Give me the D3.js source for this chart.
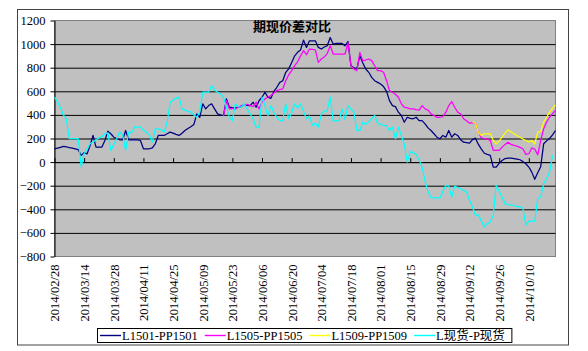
<!DOCTYPE html>
<html>
<head>
<meta charset="utf-8">
<script src="https://cdn.jsdelivr.net/npm/d3@7"></script>
<style>
  body { margin: 0; background: #fff; }
  text { font-family: "Liberation Serif", "Noto Sans CJK SC", serif; }
</style>
</head>
<body>
<div id="chart"></div>
<script>
// categories: every weekday from start to end
var startDate = "2014/02/28", endDate = "2014/10/23";
var tickLabels = ["2014/02/28","2014/03/14","2014/03/28","2014/04/11","2014/04/25","2014/05/09",
  "2014/05/23","2014/06/06","2014/06/20","2014/07/04","2014/07/18","2014/08/01","2014/08/15",
  "2014/08/29","2014/09/12","2014/09/26","2014/10/10"];
var yTicks = [-800,-600,-400,-200,0,200,400,600,800,1000,1200];

var seriesNames = ["L1501-PP1501","L1505-PP1505","L1509-PP1509","L现货-P现货"];
var seriesStart = ["2014/02/28","2014/05/20","2014/09/15","2014/02/28"];

var l1501 = [113,118,125,133,130,122,118,112,105,57,80,70,140,226,127,127,127,183,262,240,
  211,200,189,189,268,189,189,189,189,183,113,113,113,120,155,226,226,226,240,254,
  245,235,226,245,268,285,300,318,409,380,494,451,479,494,451,409,400,395,536,465,
  462,460,465,470,488,480,478,507,465,520,550,592,550,540,600,634,676,690,761,790,
  845,900,930,950,1034,972,1028,1028,1028,972,958,975,986,1056,1000,1006,1006,1006,986,1022,
  817,800,789,902,840,789,761,718,690,676,662,640,600,521,479,470,423,395,338,380,
  370,367,380,352,352,324,290,268,240,211,198,226,211,268,211,240,226,190,169,165,
  160,190,203,150,110,75,65,57,-42,-42,-10,14,30,34,34,30,25,20,5,-14,
  -42,-85,-146,-90,-40,155,180,200,230,268];

var l1505 = [390,521,451,455,451,465,479,485,490,480,470,507,451,507,536,550,565,585,606,615,
  620,690,740,775,817,850,900,944,910,958,955,950,845,874,890,920,986,916,916,916,
  916,916,1010,817,789,775,930,859,865,874,860,817,775,775,761,690,606,592,575,550,
  494,465,460,451,451,445,440,479,451,440,409,395,380,380,385,423,479,513,465,423,
  409,367,350,330,335,330,254,205,200,195,183,99,99,99,127,150,169,150,141,135,
  125,113,65,71,120,110,62,183,282,340,380,410,437];

var l1509 = [340,330,250,226,240,240,240,183,155,180,211,245,273,255,240,225,211,195,183,170,
  183,155,254,260,338,380,423,455,485];

var spot = [550,510,460,400,367,200,200,200,200,-42,71,110,155,170,190,205,215,240,247,99,
  150,198,254,230,99,254,250,296,296,296,270,254,230,169,282,282,275,254,338,507,
  525,540,550,451,440,430,423,400,380,423,592,592,592,648,610,592,578,550,465,380,
  352,494,470,465,494,450,409,367,296,296,550,479,395,479,420,380,352,352,494,367,
  420,494,460,494,430,367,390,310,330,296,409,430,437,550,352,352,352,451,360,479,
  450,423,268,268,338,320,340,370,395,330,320,310,310,268,296,198,296,226,150,0,
  90,80,65,20,-42,-160,-250,-300,-304,-304,-304,-250,-197,-203,-296,-203,-215,-225,-240,-254,
  -324,-380,-450,-450,-500,-549,-520,-507,-450,-197,-250,-296,-352,-360,-365,-370,-375,-380,-389,-535,
  -501,-501,-501,-310,-296,-183,-141,-85,57];

var seriesColors = ["#000080","#ff00ff","#ffff00","#00ffff"];

var W = 588, H = 351;
var margin = {top: 20.5, right: 32.5, bottom: 94.5, left: 54.5},
    width = W - margin.left - margin.right,
    height = H - margin.top - margin.bottom;

var parse = d3.timeParse("%Y/%m/%d"), fmt = d3.timeFormat("%Y/%m/%d");
var categories = d3.timeDay.range(parse(startDate), d3.timeDay.offset(parse(endDate), 1))
  .filter(function(d) { return d.getDay() !== 0 && d.getDay() !== 6; })
  .map(fmt);

var svg = d3.select("#chart").append("svg")
  .attr("width", W).attr("height", H);

// chart frame
svg.append("rect")
  .attr("x", 17.5).attr("y", 9.5).attr("width", 551).attr("height", 335.5)
  .attr("fill", "#fff").attr("stroke", "#444");

var g = svg.append("g")
  .attr("transform", "translate(" + margin.left + "," + margin.top + ")");

var x = d3.scalePoint().domain(categories).range([0, width]);
var y = d3.scaleLinear().domain([-800, 1200]).range([height, 0]);

// plot area
g.append("rect")
  .attr("width", width).attr("height", height)
  .attr("fill", "#c0c0c0").attr("stroke", "#808080");

// gridlines
g.append("g")
  .call(d3.axisLeft(y).tickValues(yTicks.filter(function(v) { return v > -800 && v < 1200; }))
    .tickSize(-width).tickFormat(""))
  .call(function(s) { s.select(".domain").remove(); })
  .selectAll("line").attr("stroke", "#000");

// y axis
g.append("g")
  .call(d3.axisLeft(y).tickValues(yTicks).tickSize(4).tickSizeOuter(0).tickPadding(5)
    .tickFormat(d3.format("d")))
  .call(function(s) {
    s.selectAll("text").attr("font-size", 12.5).attr("fill", "#000")
      .attr("font-family", "Liberation Serif");
  });

// x axis on the zero line, ticks pointing up
g.append("g")
  .attr("transform", "translate(0," + y(0) + ")")
  .call(d3.axisBottom(x).tickValues(tickLabels).tickSize(-4).tickSizeOuter(0).tickFormat(""))
  .selectAll("line,path").attr("stroke", "#000");

// category labels below the plot
g.append("g")
  .attr("transform", "translate(0," + height + ")")
  .call(d3.axisBottom(x).tickValues(tickLabels).tickSize(0))
  .call(function(s) {
    s.select(".domain").remove();
    s.selectAll("text")
      .attr("font-size", 12.5).attr("fill", "#000")
      .attr("font-family", "Liberation Serif")
      .attr("text-anchor", "end")
      .attr("transform", "rotate(-90)")
      .attr("x", -8).attr("y", 0).attr("dy", "0.35em");
  });

// series lines
var allSeries = [l1501, l1505, l1509, spot];
allSeries.forEach(function(vals, k) {
  var s0 = categories.indexOf(seriesStart[k]);
  var line = d3.line()
    .x(function(d, i) { return x(categories[s0 + i]); })
    .y(function(d) { return y(d); });
  g.append("path")
    .datum(vals)
    .attr("fill", "none")
    .attr("stroke", seriesColors[k])
    .attr("stroke-width", 1.25)
    .attr("stroke-linejoin", "round")
    .attr("d", line);
});

// title
svg.append("text")
  .attr("x", 292).attr("y", 31)
  .attr("text-anchor", "middle")
  .attr("font-family", "Noto Sans CJK SC")
  .attr("font-weight", "bold")
  .attr("font-size", 13)
  .text("期现价差对比");

// legend
var legend = svg.append("g");
var box = legend.append("rect")
  .attr("fill", "#fff").attr("stroke", "#000");
var lx = 100, ly = 335;
seriesNames.forEach(function(name, k) {
  legend.append("line")
    .attr("x1", lx).attr("x2", lx + 21).attr("y1", ly + 0.5).attr("y2", ly + 0.5)
    .attr("stroke", seriesColors[k]).attr("stroke-width", 1.4);
  var t = legend.append("text")
    .attr("x", lx + 22).attr("y", ly).attr("dy", "0.36em")
    .attr("font-size", 12.5).attr("fill", "#000")
    .text(name);
  lx += 22 + t.node().getComputedTextLength() + 7;
});
box.attr("x", 97.5).attr("y", 328.5).attr("width", lx - 97.5).attr("height", 14);
</script>
</body>
</html>
